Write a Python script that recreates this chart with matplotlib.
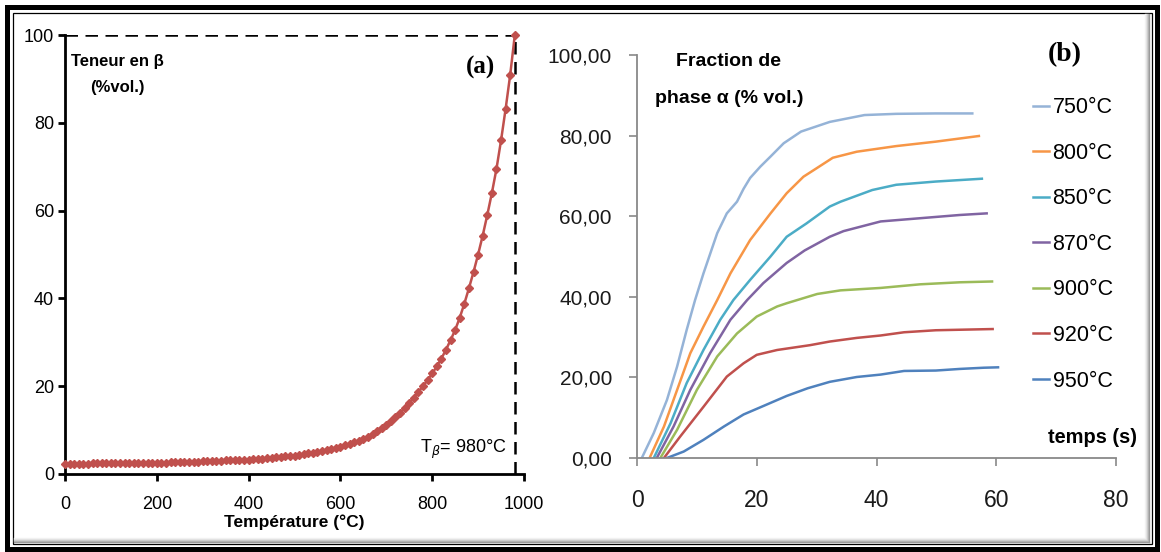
import numpy as np
import matplotlib
matplotlib.use("Agg")
from matplotlib import pyplot as plt
from matplotlib.patches import Rectangle
from matplotlib.ticker import FuncFormatter

plt.rcParams['font.family'] = ['Liberation Sans', 'DejaVu Sans']

# (a) teneur en beta vs temperature, un point tous les 10 C
temp_a = np.arange(0, 990, 10)
beta_a = [2.3, 2.3, 2.3, 2.3, 2.3, 2.3, 2.4, 2.4, 2.4, 2.4,
          2.4, 2.4, 2.4, 2.5, 2.5, 2.5, 2.5, 2.5, 2.5, 2.6,
          2.6, 2.6, 2.6, 2.7, 2.7, 2.7, 2.7, 2.8, 2.8, 2.8,
          2.9, 2.9, 2.9, 3.0, 3.0, 3.1, 3.1, 3.2, 3.2, 3.3,
          3.3, 3.4, 3.5, 3.5, 3.6, 3.7, 3.8, 3.9, 4.0, 4.1,
          4.2, 4.4, 4.5, 4.7, 4.8, 5.0, 5.2, 5.4, 5.7, 5.9,
          6.2, 6.5, 6.8, 7.2, 7.6, 8.0, 8.5, 9.1, 9.7, 10.4,
          11.2, 12.0, 12.9, 13.9, 15.0, 16.2, 17.4, 18.7, 20.0, 21.4,
          22.9, 24.5, 26.3, 28.3, 30.5, 32.8, 35.6, 38.8, 42.3, 46.0,
          50.0, 54.3, 59.0, 64.0, 69.5, 76.0, 83.2, 91.0, 100.0]
T_BETA = 980
BETA_MAX = 100

# (b) fraction de phase alpha vs temps, par temperature
labels_b = ['750°C', '800°C', '850°C', '870°C', '900°C', '920°C', '950°C']
colors_b = ['#95B3D7', '#F79646', '#4BACC6', '#8064A2', '#9BBB59', '#C0504D', '#4F81BD']
t_750 = [0.8, 2.8, 5.0, 6.7, 8.3, 9.7, 11.1, 13.4, 15.0, 16.7, 17.8, 18.9, 20.6, 22.3, 24.5,
         27.4, 32.2, 38.0, 43.3, 49.9, 56.0]
a_750 = [0.0, 6.2, 14.4, 22.7, 31.8, 39.2, 45.8, 55.8, 60.7, 63.6, 66.8, 69.5, 72.3, 74.8, 78.1,
         81.0, 83.4, 85.1, 85.4, 85.5, 85.5]
t_800 = [2.1, 4.5, 6.7, 8.9, 11.1, 13.4, 15.6, 18.9, 22.3, 25.0, 27.8, 30.0, 32.7, 36.7, 43.3, 49.9, 57.1]
a_800 = [0.0, 7.8, 16.9, 26.0, 32.6, 39.2, 45.8, 54.1, 60.7, 65.7, 69.8, 71.9, 74.5, 76.0, 77.4, 78.5, 79.9]
t_850 = [2.8, 5.6, 8.3, 11.1, 13.9, 16.1, 18.9, 22.3, 25.0, 28.3, 32.2, 34.0, 39.3, 43.3, 49.9, 57.6]
a_850 = [0.0, 8.6, 18.6, 26.8, 34.3, 39.2, 44.2, 50.0, 54.9, 58.2, 62.4, 63.6, 66.5, 67.8, 68.6, 69.3]
t_870 = [3.3, 6.1, 8.9, 12.2, 15.6, 18.4, 21.1, 25.0, 28.0, 32.2, 34.5, 40.7, 47.3, 53.9, 58.4]
a_870 = [0.0, 7.8, 16.9, 26.0, 34.3, 39.2, 43.4, 48.4, 51.5, 54.9, 56.3, 58.7, 59.5, 60.3, 60.7]
t_900 = [3.9, 6.7, 10.0, 13.4, 16.7, 20.0, 23.4, 25.0, 30.1, 34.0, 40.7, 47.3, 53.9, 59.3]
a_900 = [0.0, 7.0, 16.9, 25.2, 30.9, 35.1, 37.6, 38.4, 40.7, 41.6, 42.2, 43.1, 43.6, 43.8]
t_920 = [4.5, 7.2, 11.1, 15.0, 17.8, 20.0, 23.4, 28.9, 32.2, 36.7, 40.7, 44.6, 49.9, 59.4]
a_920 = [0.0, 5.3, 12.7, 20.2, 23.5, 25.6, 26.8, 28.0, 28.9, 29.8, 30.4, 31.2, 31.7, 32.0]
t_950 = [5.0, 7.8, 11.1, 14.5, 17.8, 21.1, 25.0, 28.5, 32.2, 36.7, 40.7, 44.6, 49.9, 53.9, 57.9, 60.3]
a_950 = [0.0, 1.6, 4.5, 7.8, 10.8, 12.9, 15.4, 17.3, 18.9, 20.1, 20.7, 21.6, 21.7, 22.1, 22.4, 22.5]
series_t = [t_750, t_800, t_850, t_870, t_900, t_920, t_950]
series_a = [a_750, a_800, a_850, a_870, a_900, a_920, a_950]

fig = plt.figure(figsize=(11.61, 5.52), dpi=100)

# cadre autour de la figure
bg = fig.add_axes([0, 0, 1, 1], zorder=-5)
bg.set_xlim(0, 1161)
bg.set_ylim(552, 0)
bg.axis('off')
for i, c in enumerate(['#f4f4f4', '#e6e6e6', '#d2d2d2', '#b8b8b8', '#9a9a9a']):
    bg.plot([14, 1151 - 6 + i], [538 + i, 538 + i], color=c, lw=1.0)
    bg.plot([1145 + i, 1145 + i], [14, 538 + i], color=c, lw=1.0)
bg.add_patch(Rectangle((12.5, 12.5), 1139, 531, fill=False, ec='black', lw=0.9))
bg.add_patch(Rectangle((7, 7), 1150, 542, fill=False, ec='black', lw=3.6))

# ---- (a)
ax1 = fig.add_axes([65 / 1161, 1 - 474 / 552, 459 / 1161, 439 / 552])
ax1.hlines(BETA_MAX, 0, T_BETA, colors='black', linestyles=(0, (5, 3)), lw=1.8, zorder=2)
ax1.vlines(T_BETA, 0, BETA_MAX, colors='black', linestyles=(0, (5, 3)), lw=1.8, zorder=2)
ax1.plot(temp_a, beta_a, color='#C0504D', lw=1.8, marker='D', ms=4.3, zorder=3, clip_on=False)
ax1.set_xlim(0, 1000)
ax1.set_ylim(0, 100)
ax1.set_xticks(range(0, 1001, 200))
ax1.set_yticks(range(0, 101, 20))
for s in ['top', 'right']:
    ax1.spines[s].set_visible(False)
for s in ['left', 'bottom']:
    ax1.spines[s].set_linewidth(2.0)
ax1.tick_params(direction='out', length=5, width=2, labelsize=13, pad=3)
ax1.tick_params(axis='x', pad=11)
ax1.set_xlabel('Température (°C)', fontsize=12.5, fontweight='bold', labelpad=1)
ax1.text(0.115, 0.94, 'Teneur en β', transform=ax1.transAxes, ha='center', va='center',
         fontsize=12, fontweight='bold')
ax1.text(0.115, 0.88, '(%vol.)', transform=ax1.transAxes, ha='center', va='center',
         fontsize=12, fontweight='bold')
ax1.text(0.905, 0.925, '(a)', transform=ax1.transAxes, ha='center', va='center',
         fontsize=18, fontweight='bold', family='Liberation Serif')
ax1.text(0.962, 0.055, r'T$_\beta$= 980°C', transform=ax1.transAxes, ha='right', va='center',
         fontsize=13)

# ---- (b)
ax2 = fig.add_axes([637 / 1161, 1 - 458 / 552, 479 / 1161, 403 / 552])
for t, a, lab, c in zip(series_t, series_a, labels_b, colors_b):
    ax2.plot(t, a, color=c, lw=1.8, label=lab)
ax2.set_xlim(0, 80)
ax2.set_ylim(0, 100)
ax2.set_xticks(range(0, 81, 20))
ax2.set_yticks(range(0, 101, 20))
ax2.yaxis.set_major_formatter(FuncFormatter(lambda v, p: f'{v:.2f}'.replace('.', ',')))
for s in ['top', 'right']:
    ax2.spines[s].set_visible(False)
for s in ['left', 'bottom']:
    ax2.spines[s].set_linewidth(1.3)
    ax2.spines[s].set_color('#898989')
ax2.tick_params(direction='out', length=6, width=1.2, color='#898989', labelcolor='#1a1a1a')
ax2.tick_params(axis='y', labelsize=15, pad=12)
ax2.tick_params(axis='x', labelsize=16.5, pad=16)
ax2.text(0.19, 0.985, 'Fraction de', transform=ax2.transAxes, ha='center', va='center',
         fontsize=14, fontweight='bold')
ax2.text(0.192, 0.893, 'phase α (% vol.)', transform=ax2.transAxes, ha='center', va='center',
         fontsize=14, fontweight='bold')
ax2.text(0.894, 1.0, '(b)', transform=ax2.transAxes, ha='center', va='center',
         fontsize=20, fontweight='bold', family='Liberation Serif')
ax2.text(0.95, 0.052, 'temps (s)', transform=ax2.transAxes, ha='center', va='center',
         fontsize=14.4, fontweight='bold')
ax2.legend(loc='upper left', bbox_to_anchor=(0.827, 0.895), frameon=False, fontsize=15.5,
           handlelength=0.75, handletextpad=0.15, labelspacing=1.14,
           borderpad=0, borderaxespad=0)

fig.savefig('out.png', dpi=100)
